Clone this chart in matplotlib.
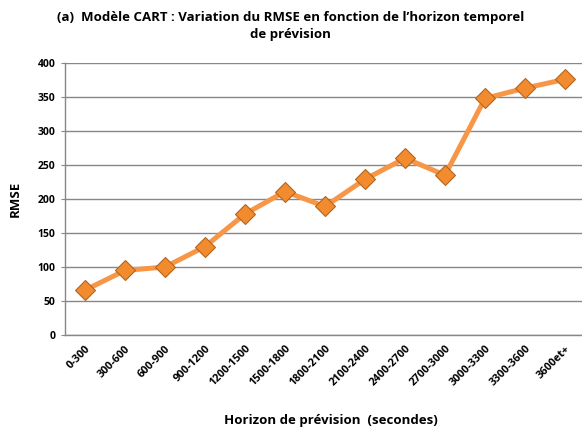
import matplotlib.pyplot as plt

horizons = ["0-300", "300-600", "600-900", "900-1200", "1200-1500", "1500-1800",
            "1800-2100", "2100-2400", "2400-2700", "2700-3000", "3000-3300",
            "3300-3600", "3600et+"]
rmse = [66, 95, 100, 130, 178, 211, 189, 229, 260, 235, 348, 363, 376]
y_ticks = [0, 50, 100, 150, 200, 250, 300, 350, 400]

plt.rcParams["font.family"] = ["Open Sans", "DejaVu Sans"]

fig = plt.figure(figsize=(5.82, 4.30), dpi=100)
ax = fig.add_axes([0.1117, 0.2209, 0.8935, 0.6326])

x = range(len(horizons))
ax.plot(x, rmse, color="#F79646", linewidth=3.6, zorder=3,
        marker="D", markersize=10, markerfacecolor="#F28A2E",
        markeredgecolor="#B3651F", markeredgewidth=0.8)

ax.set_xlim(-0.5, len(horizons) - 0.5)
ax.set_ylim(0, 400)
ax.set_yticks(y_ticks)
ax.set_yticklabels([str(v) for v in y_ticks], fontsize=7.5, fontweight="bold")
ax.yaxis.grid(True, color="#878787", linewidth=1)
ax.set_axisbelow(True)

ax.set_xticks(list(x))
ax.set_xticklabels(horizons, rotation=45, ha="right", va="top",
                   rotation_mode="anchor", fontsize=7.8, fontweight="bold")
ax.tick_params(axis="x", length=0, pad=6)
ax.tick_params(axis="y", length=3, color="#878787", pad=4)

for side in ["top", "right"]:
    ax.spines[side].set_visible(False)
for side in ["left", "bottom"]:
    ax.spines[side].set_color("#878787")
    ax.spines[side].set_linewidth(1)

ax.set_ylabel("RMSE", fontsize=9.5, fontweight="bold", labelpad=11)
fig.text(0.569, 0.015, "Horizon de prévision  (secondes)", ha="center",
         fontsize=9.5, fontweight="bold")
fig.text(0.499, 0.975,
         "(a)  Modèle CART : Variation du RMSE en fonction de l’horizon temporel\nde prévision",
         ha="center", va="top", fontsize=9.5, fontweight="bold", linespacing=1.45)

fig.savefig("out.png", dpi=100)
